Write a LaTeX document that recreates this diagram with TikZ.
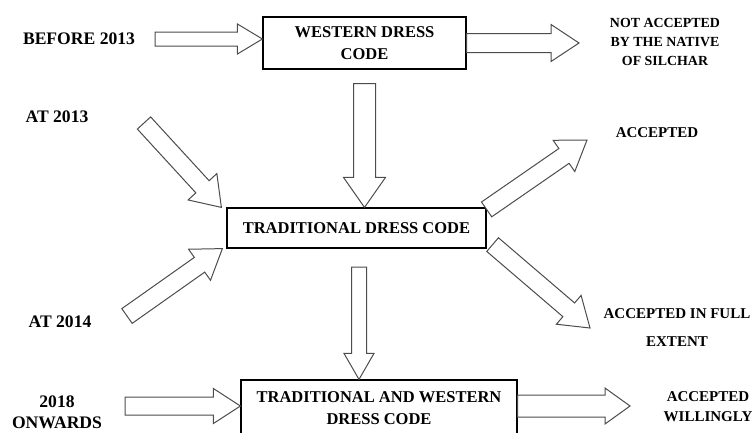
\documentclass[tikz,border=0pt]{standalone}
\usepackage{fontspec}
\setmainfont{Liberation Serif}
\usetikzlibrary{calc}

% hollow block arrow: tail, tip, shaft half width, head half width, head length
\newcommand{\hollowarrow}[5]{%
  \path (#1) coordinate (t) (#2) coordinate (p);
  \coordinate (h) at ($(p)!#5pt!(t)$);
  \draw[fat] ($(t)!#3pt!90:(p)$) -- ($(h)!#3pt!-90:(t)$) -- ($(h)!#4pt!-90:(t)$) -- (p)
    -- ($(h)!#4pt!90:(t)$) -- ($(h)!#3pt!90:(t)$) -- ($(t)!#3pt!-90:(p)$) -- cycle;
}

\begin{document}
\begin{tikzpicture}[x=1pt, y=-1pt,
    box/.style={draw=black, line width=1.2pt, align=center, inner sep=0pt,
                font=\bfseries\fontsize{16.5}{22.5}\selectfont},
    lefttxt/.style={align=center, inner sep=0pt, font=\bfseries\fontsize{17.6}{24}\selectfont},
    righttxt/.style={align=center, inner sep=0pt, font=\bfseries\fontsize{15}{23}\selectfont},
    fat/.style={draw=black!70, line width=1pt, fill=white, line join=miter}]
    \useasboundingbox (0,0) rectangle (755,432);
    \clip (0,0) rectangle (755,432);

    % Boxes
    \node[box, minimum width=203pt, minimum height=52pt] (western) at (364.5,43) {WESTERN DRESS\\CODE};
    \node[box, minimum width=259pt, minimum height=40pt] (trad) at (356.5,228) {TRADITIONAL DRESS CODE};
    \node[box, minimum width=276pt, minimum height=56pt] (mixed) at (379,408) {TRADITIONAL AND WESTERN\\DRESS CODE};

    % Labels
    \node[lefttxt] (before) at (79,39) {BEFORE 2013};
    \node[lefttxt] (at13) at (57,117) {AT 2013};
    \node[lefttxt] (at14) at (60,322) {AT 2014};
    \node[lefttxt, font=\bfseries\fontsize{17.6}{21}\selectfont] (onwards) at (57,412.5) {2018\\ONWARDS};
    \node[righttxt, font=\bfseries\fontsize{13.9}{19}\selectfont] (notacc) at (665,42) {NOT ACCEPTED\\BY THE NATIVE\\OF SILCHAR};
    \node[righttxt] (acc) at (657,133) {ACCEPTED};
    \node[righttxt, font=\bfseries\fontsize{15}{28}\selectfont] (full) at (677,327.5) {ACCEPTED IN FULL\\EXTENT};
    \node[righttxt, font=\bfseries\fontsize{15}{20}\selectfont] (willing) at (708,407) {ACCEPTED\\WILLINGLY};

    % Free ends of the arrows
    \coordinate (c1) at (155,39);
    \coordinate (c2) at (579,43);
    \coordinate (c4) at (144,123);
    \coordinate (c5) at (127,316);
    \coordinate (c6) at (587,140);
    \coordinate (c7) at (590,328);
    \coordinate (c8) at (359,267);
    \coordinate (c9) at (125,406);
    \coordinate (c10) at (630,406);

    % Arrows
    \hollowarrow{c1}{[yshift=4pt]western.west}{7}{15}{25}
    \hollowarrow{western.east}{c2}{9.5}{18.5}{28}
    \hollowarrow{[yshift=-14pt]western.south}{trad.north -| western.south}{11}{21}{30}
    \hollowarrow{c4}{[xshift=-5pt]trad.north west}{9}{19.5}{28}
    \hollowarrow{c5}{[xshift=-4pt]trad.south west}{9}{19}{28}
    \hollowarrow{[yshift=-2pt]trad.north east}{c6}{9}{19}{28}
    \hollowarrow{[shift={(6pt,4pt)}]trad.south east}{c7}{9}{19}{28}
    \hollowarrow{c8}{mixed.north -| c8}{7.5}{15}{26}
    \hollowarrow{c9}{[yshift=2pt]mixed.west}{9}{17.5}{27}
    \hollowarrow{[yshift=2pt]mixed.east}{c10}{11}{18}{25}
\end{tikzpicture}
\end{document}
